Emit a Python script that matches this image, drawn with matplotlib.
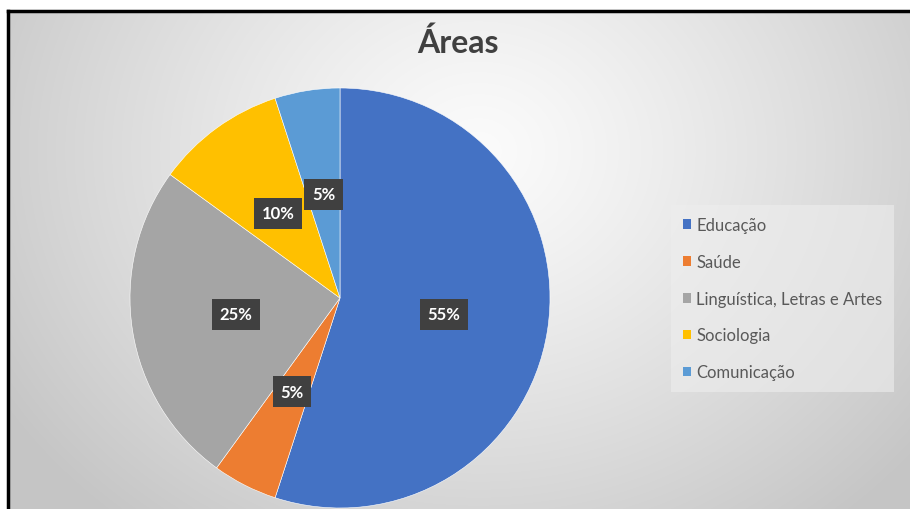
import matplotlib.pyplot as plt
import numpy as np
from matplotlib.patches import Patch

# -------------------------
# Data
# -------------------------
title = 'Áreas'
areas = ['Educação', 'Saúde', 'Linguística, Letras e Artes', 'Sociologia', 'Comunicação']
shares = [55, 5, 25, 10, 5]
colors = ['#4472C4', '#ED7D31', '#A5A5A5', '#FFC000', '#5B9BD5']

plt.rcParams['font.family'] = ['Lato', 'DejaVu Sans']

W, H = 910, 510
fig = plt.figure(figsize=(W / 100, H / 100), dpi=100)
fig.patch.set_facecolor('white')

# -------------------------
# Chart area with soft radial gradient
# -------------------------
bg = fig.add_axes([8 / W, 0, 1 - 8 / W, 1 - 12 / H])
yy, xx = np.mgrid[0:498, 0:902]
cx, cy = 470, 140
d = np.sqrt(((xx - cx) / 560) ** 2 + ((yy - cy) / 480) ** 2)
d = np.clip(d, 0, 1)
shade = 0.985 - 0.21 * d ** 1.2
bg.imshow(np.dstack([shade] * 3), aspect='auto', extent=[0, 1, 0, 1], origin='upper')
bg.set_xticks([])
bg.set_yticks([])
for side in ['right', 'bottom']:
    bg.spines[side].set_visible(False)
for side in ['top', 'left']:
    bg.spines[side].set_linewidth(2.5)
    bg.spines[side].set_color('black')

# -------------------------
# Pie
# -------------------------
cxp, cyp, R = 340, 299, 210
ax = fig.add_axes([(cxp - R) / W, (H - cyp - R) / H, 2 * R / W, 2 * R / H])
wedges, texts, autotexts = ax.pie(
    shares,
    colors=colors,
    startangle=90,
    counterclock=False,
    autopct='%1.0f%%',
    pctdistance=0.5,
    wedgeprops={'edgecolor': 'white', 'linewidth': 0.4},
    textprops={'fontsize': 12, 'weight': 'bold', 'color': 'white'},
)
for t in autotexts:
    t.set_bbox(dict(boxstyle='square,pad=0.45', facecolor='#404040', edgecolor='none'))
ax.set_xlim(-1, 1)
ax.set_ylim(-1, 1)
ax.set_aspect('equal')
ax.axis('off')

fig.text(458 / W, 1 - 43 / H, title, ha='center', va='center',
         fontsize=23, weight='bold', color='#404040')

# -------------------------
# Legend
# -------------------------
handles = [Patch(facecolor=c, edgecolor='none') for c in colors]
leg = fig.legend(handles, areas, loc='upper left', bbox_to_anchor=(663 / W, 1 - 198 / H),
                 fontsize=12, frameon=True, fancybox=False, labelspacing=1.25,
                 handlelength=0.5, handleheight=0.5, handletextpad=0.3,
                 borderpad=0.7, labelcolor='#595959')
leg.get_frame().set_facecolor('#eeeeee')
leg.get_frame().set_alpha(0.6)
leg.get_frame().set_edgecolor('none')

plt.savefig('out.png', dpi=100)
